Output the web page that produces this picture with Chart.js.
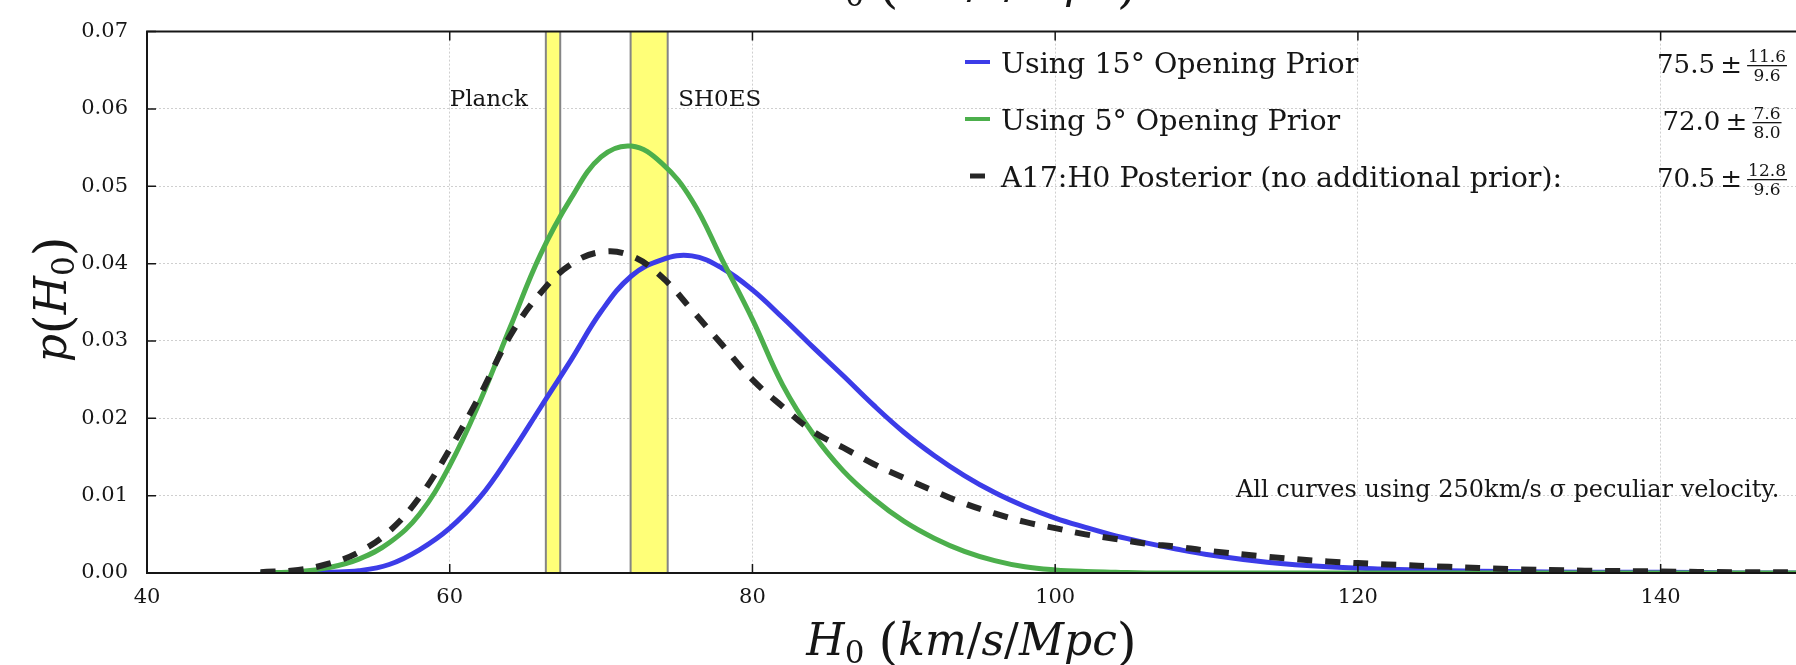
<!DOCTYPE html>
<html>
<head>
<meta charset="utf-8">
<title>H0 posterior</title>
<script src="https://cdn.jsdelivr.net/npm/chart.js@4.4.1/dist/chart.umd.min.js"></script>
<style>
  html, body { margin: 0; padding: 0; background: #fff; overflow: hidden; }
  #wrap { position: relative; width: 1796px; height: 665px; overflow: hidden; }
  #chart { position: absolute; left: 0; top: 0; }
</style>
</head>
<body>
<div id="wrap"><canvas id="chart" width="1814" height="665"></canvas></div>
<script>
// H0 grid (km/s/Mpc) and the three posteriors
const h0Grid = [47.5, 50, 52, 54, 56, 58, 60, 62, 64, 66,
	68, 70, 72, 74, 76, 78, 80, 82, 84, 86,
	88, 90, 92, 94, 96, 98, 100, 102, 104, 106,
	108, 110, 114, 118, 122, 126, 130, 135, 140, 145,
	150];
const prior15 = [0, 0, 0.0001, 0.0003, 0.0011, 0.0030, 0.0058, 0.0098, 0.0153, 0.0214,
	0.0275, 0.0338, 0.0384, 0.0405, 0.0410, 0.0394, 0.0366, 0.0330, 0.0292, 0.0255,
	0.0217, 0.0182, 0.0152, 0.0126, 0.0104, 0.0086, 0.0071, 0.0059, 0.0048, 0.0039,
	0.0031, 0.0024, 0.0014, 0.0008, 0.0005, 0.0003, 0.0002, 0.0001, 0.0001, 0,
	0];
const prior5 = [0, 0.0002, 0.0007, 0.0018, 0.0039, 0.0076, 0.0139, 0.0222, 0.0318, 0.0412,
	0.0484, 0.0538, 0.0552, 0.0530, 0.0482, 0.0405, 0.0328, 0.0243, 0.0180, 0.0132,
	0.0096, 0.0067, 0.0045, 0.0028, 0.0016, 0.0008, 0.0004, 0.0002, 0.0001, 0,
	0, 0, 0, 0, 0, 0, 0, 0, 0, 0,
	0];
const noPrior = [0.0001, 0.0004, 0.0012, 0.0027, 0.0054, 0.0098, 0.0160, 0.0230, 0.0307, 0.0362,
	0.0399, 0.0415, 0.0410, 0.0383, 0.0340, 0.0295, 0.0250, 0.0215, 0.0183, 0.0162,
	0.0141, 0.0123, 0.0106, 0.0090, 0.0077, 0.0066, 0.0058, 0.0050, 0.0044, 0.0038,
	0.0034, 0.0029, 0.0021, 0.0015, 0.0011, 0.0008, 0.0005, 0.0003, 0.0002, 0.0001,
	0.0001];

const seriesNames = ['Using 15\u00b0 Opening Prior', 'Using 5\u00b0 Opening Prior', 'A17:H0 Posterior (no additional prior):'];
const seriesMedian = ['75.5', '72.0', '70.5'];
const seriesUpper = ['11.6', '7.6', '12.8'];
const seriesLower = ['9.6', '8.0', '9.6'];

const bandNames = ['Planck', 'SH0ES'];
const bandLow = [66.35, 71.95];
const bandHigh = [67.3, 74.4];

const xTicks = [40, 60, 80, 100, 120, 140];
const yTicks = [0, 0.01, 0.02, 0.03, 0.04, 0.05, 0.06, 0.07];

const noteText = 'All curves using 250km/s \u03c3 peculiar velocity.';

const serif = 'DejaVu Serif';
const ink = '#161616';

// i = italic, s = subscript, p = math-size parenthesis, r = roman
function fontFor( kind, size ) {
	if ( kind === 'i' ) return `italic ${ size }px "${ serif }"`;
	if ( kind === 's' ) return `${ Math.round( size * 0.7 ) }px "${ serif }"`;
	if ( kind === 'p' ) return `${ Math.round( size * 1.15 ) }px "${ serif }"`;
	return `${ size }px "${ serif }"`;
}

function shiftFor( kind, size ) {
	if ( kind === 's' ) return size * 0.19;
	if ( kind === 'p' ) return size * 0.08;
	return 0;
}

function richWidth( ctx, parts, size ) {
	let w = 0;
	for ( const [ t, k ] of parts ) {
		ctx.font = fontFor( k, size );
		w += ctx.measureText( t ).width;
	}
	return w;
}

function drawRich( ctx, parts, size, x, y ) {
	ctx.textAlign = 'left';
	ctx.textBaseline = 'alphabetic';
	for ( const [ t, k ] of parts ) {
		ctx.font = fontFor( k, size );
		ctx.fillText( t, x, y + shiftFor( k, size ) );
		x += ctx.measureText( t ).width;
	}
}

const xTitle = [ [ 'H', 'i' ], [ '0', 's' ], [ ' ', 'r' ], [ '(', 'p' ], [ 'km', 'i' ], [ '/', 'r' ], [ 's', 'i' ], [ '/', 'r' ], [ 'Mpc', 'i' ], [ ')', 'p' ] ];
const yTitle = [ [ 'p', 'i' ], [ '(', 'p' ], [ 'H', 'i' ], [ '0', 's' ], [ ')', 'p' ] ];

const bandsPlugin = {
	id: 'bands',
	beforeDatasetsDraw( chart ) {
		const { ctx, chartArea, scales } = chart;
		ctx.save();
		for ( let i = 0; i < bandLow.length; i++ ) {
			const x0 = scales.x.getPixelForValue( bandLow[ i ] );
			const x1 = scales.x.getPixelForValue( bandHigh[ i ] );
			ctx.fillStyle = '#ffff78';
			ctx.fillRect( x0, chartArea.top, x1 - x0, chartArea.bottom - chartArea.top );
			ctx.strokeStyle = '#858585';
			ctx.lineWidth = 2;
			ctx.beginPath();
			ctx.moveTo( x0, chartArea.top );
			ctx.lineTo( x0, chartArea.bottom );
			ctx.moveTo( x1, chartArea.top );
			ctx.lineTo( x1, chartArea.bottom );
			ctx.stroke();
		}
		ctx.restore();
	},
};

const decorPlugin = {
	id: 'decor',
	afterDatasetsDraw( chart ) {
		const { ctx, chartArea, scales } = chart;
		const { left, top, right, bottom } = chartArea;
		ctx.save();

		// frame, matplotlib style
		ctx.strokeStyle = ink;
		ctx.lineWidth = 2;
		ctx.beginPath();
		ctx.moveTo( right, top );
		ctx.lineTo( left, top );
		ctx.lineTo( left, bottom );
		ctx.lineTo( right, bottom );
		ctx.stroke();

		// inward tick marks
		ctx.lineWidth = 1.5;
		ctx.beginPath();
		for ( const v of xTicks ) {
			const px = scales.x.getPixelForValue( v );
			ctx.moveTo( px, bottom );
			ctx.lineTo( px, bottom - 9 );
			ctx.moveTo( px, top );
			ctx.lineTo( px, top + 9 );
		}
		for ( const v of yTicks ) {
			const py = scales.y.getPixelForValue( v );
			ctx.moveTo( left, py );
			ctx.lineTo( left + 9, py );
		}
		ctx.stroke();

		// band labels
		ctx.fillStyle = ink;
		ctx.font = `23px "${ serif }"`;
		ctx.textAlign = 'left';
		ctx.textBaseline = 'alphabetic';
		const labelY = scales.y.getPixelForValue( 0.06 ) - 3;
		ctx.fillText( bandNames[ 0 ], scales.x.getPixelForValue( 60 ), labelY );
		ctx.fillText( bandNames[ 1 ], scales.x.getPixelForValue( 75.1 ), labelY );

		// legend
		const rows = [ 73, 130, 187 ];
		chart.data.datasets.forEach( ( ds, i ) => {
			const y = rows[ i ];
			ctx.strokeStyle = ds.borderColor;
			ctx.lineWidth = ds.borderDash ? 5 : 4;
			ctx.beginPath();
			if ( ds.borderDash ) {
				ctx.moveTo( 970, y - 11 );
				ctx.lineTo( 985, y - 11 );
			} else {
				ctx.moveTo( 965, y - 11 );
				ctx.lineTo( 990, y - 11 );
			}
			ctx.stroke();
			ctx.fillStyle = ink;
			ctx.font = `28.5px "${ serif }"`;
			ctx.textAlign = 'left';
			ctx.fillText( seriesNames[ i ], 1001, y );

			// median with asymmetric errors
			ctx.font = `26px "${ serif }"`;
			const main = seriesMedian[ i ] + '\u2009\u00b1\u2009';
			const wMain = ctx.measureText( main ).width;
			ctx.font = `17px "${ serif }"`;
			const wFrac = Math.max( ctx.measureText( seriesUpper[ i ] ).width, ctx.measureText( seriesLower[ i ] ).width ) + 2;
			const x0 = 1722 - ( wMain + wFrac ) / 2;
			ctx.font = `26px "${ serif }"`;
			ctx.fillText( main, x0, y );
			const fx = x0 + wMain + wFrac / 2;
			const barY = y - 8;
			ctx.fillRect( fx - wFrac / 2, barY, wFrac, 1.3 );
			ctx.font = `17px "${ serif }"`;
			ctx.textAlign = 'center';
			ctx.fillText( seriesUpper[ i ], fx, barY - 3 );
			ctx.fillText( seriesLower[ i ], fx, barY + 16 );
		} );

		// note
		ctx.fillStyle = ink;
		ctx.textAlign = 'left';
		ctx.font = `24px "${ serif }"`;
		ctx.fillText( noteText, 1236, 497 );

		// axis titles (the top copy is cut by the crop)
		const visibleRight = Math.min( right, 1796 );
		const cx = ( left + visibleRight ) / 2;
		const tw = richWidth( ctx, xTitle, 44 );
		drawRich( ctx, xTitle, 44, cx - tw / 2, 655 );
		drawRich( ctx, xTitle, 44, cx - tw / 2, -2 );

		const yw = richWidth( ctx, yTitle, 44 );
		ctx.translate( 66, ( top + bottom ) / 2 - 3 );
		ctx.rotate( -Math.PI / 2 );
		drawRich( ctx, yTitle, 44, -yw / 2, 0 );

		ctx.restore();
	},
};

const toPoints = ( vals ) => vals.map( ( v, i ) => ( { x: h0Grid[ i ], y: v } ) );

new Chart( document.getElementById( 'chart' ), {
	type: 'line',
	data: {
		datasets: [
			{
				label: seriesNames[ 0 ],
				data: toPoints( prior15 ),
				borderColor: '#3c3ce8',
				borderWidth: 5,
				order: 3,
			},
			{
				label: seriesNames[ 1 ],
				data: toPoints( prior5 ),
				borderColor: '#4caf4c',
				borderWidth: 5,
				order: 2,
			},
			{
				label: seriesNames[ 2 ],
				data: toPoints( noPrior ),
				borderColor: '#262626',
				borderWidth: 6,
				borderDash: [ 15, 13 ],
				order: 1,
			},
		],
	},
	options: {
		responsive: false,
		animation: false,
		devicePixelRatio: 1,
		layout: { padding: { top: 25, right: 2, left: 0, bottom: 0 } },
		elements: {
			point: { radius: 0 },
			line: { tension: 0.4, fill: false },
		},
		plugins: {
			legend: { display: false },
			tooltip: { enabled: false },
		},
		scales: {
			x: {
				type: 'linear',
				min: 40,
				max: 150,
				afterBuildTicks: ( scale ) => {
					scale.ticks = xTicks.map( ( v ) => ( { value: v } ) );
				},
				afterFit: ( scale ) => {
					scale.height = 92;
				},
				ticks: {
					color: ink,
					padding: 12,
					maxRotation: 0,
					font: { family: serif, size: 21 },
					callback: ( v ) => String( v ),
				},
				grid: { color: '#cfcfcf', lineWidth: 1, drawTicks: false },
				border: { display: false, dash: [ 2, 2 ] },
			},
			y: {
				type: 'linear',
				min: 0,
				max: 0.07,
				afterBuildTicks: ( scale ) => {
					scale.ticks = yTicks.map( ( v ) => ( { value: v } ) );
				},
				afterFit: ( scale ) => {
					scale.width = 147;
				},
				ticks: {
					color: ink,
					padding: 19,
					font: { family: serif, size: 21 },
					callback: ( v ) => Number( v ).toFixed( 2 ),
				},
				grid: { color: '#cfcfcf', lineWidth: 1, drawTicks: false },
				border: { display: false, dash: [ 2, 2 ] },
			},
		},
	},
	plugins: [ bandsPlugin, decorPlugin ],
} );
</script>
</body>
</html>
